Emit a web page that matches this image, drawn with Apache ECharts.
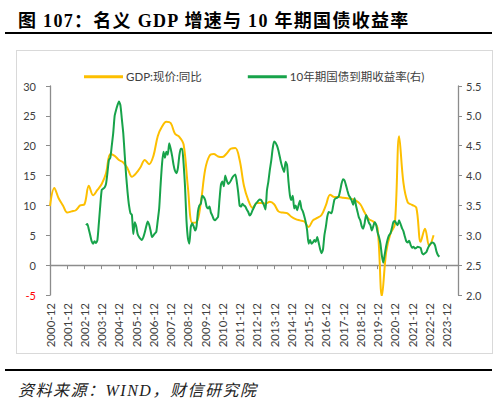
<!DOCTYPE html>
<html>
<head>
<meta charset="utf-8">
<script src="https://cdn.jsdelivr.net/npm/echarts@6/dist/echarts.min.js"></script>
<style>
  html, body { margin: 0; padding: 0; background: #fff; }
  #wrap { position: relative; width: 500px; height: 405px; overflow: hidden; }
  #chart { position: absolute; left: 0; top: 0; width: 500px; height: 405px; }
  #title { position: absolute; left: 18px; top: 6px; font-family: 'Liberation Serif', 'Noto Sans CJK SC', serif; font-weight: bold; font-size: 18px; color: #000; white-space: nowrap; letter-spacing: 1.3px; }
  #topline { position: absolute; left: 5px; top: 32px; width: 487px; height: 2px; background: #000; }
  #frame { position: absolute; left: 16px; top: 50px; width: 475px; height: 302px; border: 1px solid #D9D9D9; }
  #botline { position: absolute; left: 5px; top: 369px; width: 487px; height: 2px; background: #000; }
  #source { position: absolute; left: 18px; top: 377px; font-family: 'Liberation Serif', 'Noto Sans CJK SC', serif; font-style: italic; font-size: 16px; color: #222; white-space: nowrap; letter-spacing: 1.5px; }
</style>
</head>
<body>
<div id="wrap">
  <div id="title">图 107：名义 GDP 增速与 10 年期国债收益率</div>
  <div id="topline"></div>
  <div id="frame"></div>
  <div id="chart"></div>
  <div id="botline"></div>
  <div id="source">资料来源：WIND，财信研究院</div>
</div>
<script>
// ---- data ----
const axisStart = [2000, 12];          // first month on the category axis
const axisMonths = 285;                // number of monthly categories
const gdpName = 'GDP:现价:同比';
const yieldName = '10年期国债到期收益率(右)';
const gdpStart = [2000, 12];           // quarterly, every 3 months
const gdpValues = [
  9.9, 12.9, 11.2, 10.0, 8.8, 9.0, 9.2, 10.0, 10.2, 13.3,
  11.7, 12.6, 13.6, 15.4, 18.6, 18.3, 17.6, 17.2, 16.2, 14.8,
  15.4, 16.4, 17.6, 16.9, 18.3, 21.6, 23.2, 24.0, 23.8, 22.0,
  21.5, 20.2, 13.0, 7.1, 7.2, 10.5, 16.0, 18.3, 18.6, 18.2,
  18.1, 18.7, 19.5, 19.6, 17.6, 13.3, 10.9, 9.6, 10.4, 10.4,
  10.3, 10.6, 10.2, 9.0, 8.8, 8.7, 8.1, 7.7, 7.5, 7.3,
  6.4, 7.5, 7.9, 8.4, 10.0, 11.8, 11.4, 11.4, 11.3, 11.2,
  11.1, 10.8, 10.2, 8.8, 7.7, 7.3, 6.2, -5.2, 2.2, 5.3,
  6.8, 21.6, 13.8, 10.5, 10.1, 9.6, 3.9, 6.1, 3.2, 5.0
];
const yieldStart = [2003, 1];          // monthly
const yieldValues = [
  3.17,3.19,3.10,3.00,2.90,2.86,2.90,2.87,2.92,3.20,3.50,3.76,
  3.78,3.80,3.86,4.05,4.26,4.30,4.50,4.71,5.00,5.10,5.18,5.24,
  5.18,4.95,4.71,4.35,4.00,3.72,3.50,3.37,3.34,3.02,3.22,3.15,
  3.02,2.97,2.94,2.92,2.97,3.05,3.15,3.23,3.18,3.08,2.97,3.00,
  3.03,3.06,3.25,3.45,3.85,4.20,4.40,4.30,4.40,4.35,4.54,4.45,
  4.33,4.18,4.08,4.04,4.12,4.33,4.45,4.45,4.20,3.81,3.25,2.95,
  2.86,3.14,3.20,3.15,3.08,3.15,3.40,3.50,3.53,3.66,3.64,3.59,
  3.48,3.45,3.48,3.38,3.33,3.27,3.25,3.28,3.31,3.60,3.85,3.90,
  3.82,4.00,3.92,3.86,3.88,3.92,3.97,4.00,4.02,3.90,3.72,3.50,
  3.48,3.53,3.50,3.48,3.43,3.39,3.33,3.36,3.42,3.47,3.52,3.55,
  3.58,3.60,3.59,3.55,3.50,3.43,3.75,3.90,4.09,4.25,4.45,4.57,
  4.55,4.50,4.42,4.31,4.20,4.12,4.06,4.23,4.18,3.90,3.67,3.59,
  3.66,3.45,3.50,3.42,3.50,3.58,3.45,3.40,3.32,3.22,3.08,2.86,
  2.92,2.86,2.88,2.92,2.89,2.97,2.88,2.77,2.70,2.76,3.00,3.14,
  3.31,3.39,3.38,3.37,3.48,3.60,3.62,3.63,3.65,3.75,3.87,3.94,
  3.92,3.84,3.75,3.67,3.63,3.58,3.51,3.62,3.50,3.40,3.30,3.25,
  3.15,3.11,3.20,3.34,3.28,3.21,3.17,3.08,3.15,3.22,3.18,3.05,
  2.97,2.86,2.66,2.54,2.68,2.82,2.93,3.00,3.03,3.12,3.22,3.24,
  3.20,3.17,3.25,3.19,3.12,3.07,2.98,2.90,2.88,2.91,2.84,2.79,
  2.81,2.78,2.79,2.81,2.80,2.79,2.70,2.68,2.70,2.72,2.78,2.83,
  2.86,2.88,2.87,2.83,2.73,2.67,2.64
];
const leftTicks = { min: -5, max: 30, interval: 5 };
const rightTicks = { min: 2.0, max: 5.5, interval: 0.5 };

// ---- build ----
function monthLabel(y, m, add) {
  const t = y * 12 + (m - 1) + add;
  const yy = Math.floor(t / 12), mm = t % 12 + 1;
  return yy + '-' + (mm < 10 ? '0' + mm : '' + mm);
}
const categories = [];
for (let i = 0; i < axisMonths; i++) categories.push(monthLabel(axisStart[0], axisStart[1], i));
const gdpData = gdpValues.map((v, i) => [monthLabel(gdpStart[0], gdpStart[1], i * 3), v]);
const yieldData = yieldValues.map((v, i) => [monthLabel(yieldStart[0], yieldStart[1], i), v]);

const font = "Lato, 'Noto Sans CJK SC', sans-serif";
const axisGray = '#8C8C8C';
const yearTick = (i) => i % 12 === 0;

const chart = echarts.init(document.getElementById('chart'), null, { renderer: 'svg' });
chart.setOption({
  animation: false,
  textStyle: { fontFamily: font },
  grid: { left: 50, right: 42, top: 86, bottom: 110, containLabel: false },
  legend: {
    left: 79, top: 66, itemGap: 46, itemWidth: 39, itemHeight: 3,
    icon: 'rect',
    textStyle: { fontSize: 11.5, color: '#404040', fontFamily: font, padding: [0, 0, 0, -2] },
    data: [gdpName, yieldName]
  },
  xAxis: [
    {
      type: 'category', data: categories, boundaryGap: false, position: 'bottom',
      axisLine: { show: false, onZero: false }, axisTick: { show: false },
      axisLabel: { interval: yearTick, rotate: 90, fontSize: 11.5, color: '#404040', margin: 8, fontFamily: font },
      splitLine: { show: false }
    },
    {
      type: 'category', data: categories, boundaryGap: false, position: 'bottom',
      axisLine: { show: true, onZero: true, onZeroAxisIndex: 0, lineStyle: { color: axisGray, width: 1.3 } },
      axisTick: { show: true, interval: yearTick, length: 4, lineStyle: { color: axisGray, width: 1 } },
      axisLabel: { show: false }, splitLine: { show: false }
    }
  ],
  yAxis: [
    {
      type: 'value', position: 'left', min: leftTicks.min, max: leftTicks.max, interval: leftTicks.interval,
      axisLine: { show: true, onZero: false, lineStyle: { color: axisGray, width: 1.3 } },
      axisTick: { show: true, length: 4, lineStyle: { color: axisGray } },
      axisLabel: { fontSize: 11, margin: 14, fontFamily: font, color: (v) => (Number(v) < 0 ? '#FF0000' : '#404040') },
      splitLine: { show: false }
    },
    {
      type: 'value', position: 'right', min: rightTicks.min, max: rightTicks.max, interval: rightTicks.interval,
      axisLine: { show: true, onZero: false, lineStyle: { color: axisGray, width: 1.3 } },
      axisTick: { show: true, length: 4, lineStyle: { color: axisGray } },
      axisLabel: { fontSize: 11, margin: 8, color: '#404040', fontFamily: font, formatter: (v) => v.toFixed(1) },
      splitLine: { show: false }
    }
  ],
  series: [
    {
      name: gdpName, type: 'line', xAxisIndex: 0, yAxisIndex: 0, data: gdpData,
      smooth: 0.35, showSymbol: false, symbol: 'none',
      lineStyle: { color: '#FDBF00', width: 2 }, itemStyle: { color: '#FDBF00' }, z: 2
    },
    {
      name: yieldName, type: 'line', xAxisIndex: 0, yAxisIndex: 1, data: yieldData,
      smooth: 0.2, showSymbol: false, symbol: 'none',
      lineStyle: { color: '#17A34A', width: 2 }, itemStyle: { color: '#17A34A' }, z: 3
    }
  ]
});
</script>
</body>
</html>
